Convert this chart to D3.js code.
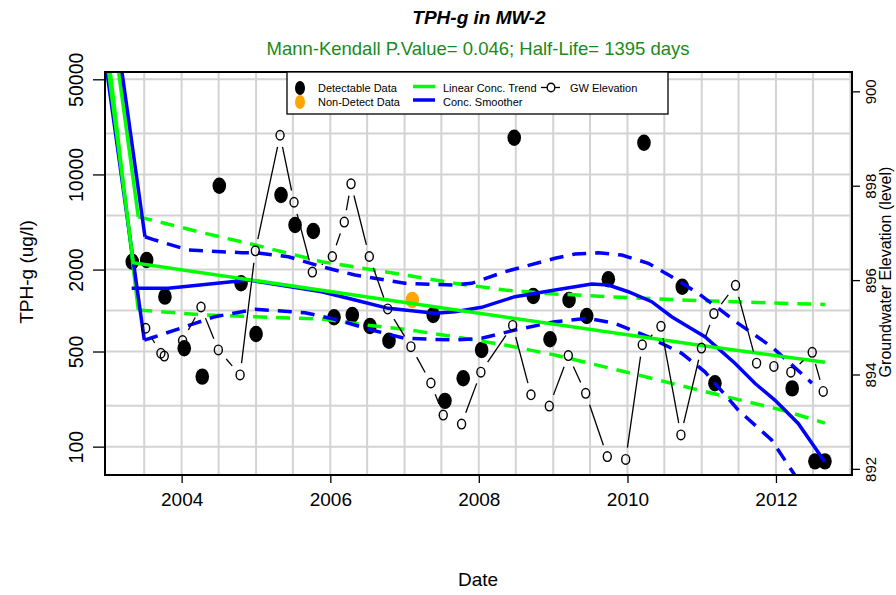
<!DOCTYPE html>
<html><head><meta charset="utf-8">
<script src="https://cdn.jsdelivr.net/npm/d3@7"></script>
<style>body{margin:0;background:#fff}svg{display:block;font-family:"Liberation Sans",Arial,sans-serif}</style>
</head><body><svg id="c" width="896" height="595"></svg>
<script>
// ---- data (decimal years) ----
const detectYear = [2003.335,2003.529,2003.775,2004.035,2004.277,2004.506,2004.798,2005.0,2005.336,2005.525,2005.771,2006.05,2006.296,2006.534,2006.79,2007.386,2007.544,2007.79,2008.038,2008.476,2008.732,2008.957,2009.213,2009.451,2009.742,2010.222,2010.738,2011.178,2012.218,2012.524,2012.658];
const detectValue = [2285,2350,1265,528,327,8265,1585,673,7063,4250,3840,892,927,770,600,927,217,318,513,18620,1280,615,1195,912,1697,17100,1497,292,268,78,78];
const ndYear = [2007.104];
const ndValue = [1195];
const gwYear = [2003.516,2003.721,2003.766,2004.013,2004.26,2004.493,2004.785,2004.99,2005.323,2005.511,2005.758,2006.027,2006.188,2006.279,2006.525,2006.773,2007.086,2007.355,2007.521,2007.768,2008.028,2008.455,2008.701,2008.947,2009.203,2009.437,2009.728,2009.976,2010.199,2010.451,2010.72,2010.996,2011.164,2011.456,2011.739,2011.972,2012.2,2012.487,2012.635];
const gwLevel = [894.98,894.45,894.39,894.72,895.43,894.52,893.99,896.62,899.07,897.65,896.17,896.50,897.23,898.04,896.50,895.39,894.59,893.82,893.14,892.95,894.05,895.04,893.57,893.33,894.40,893.60,892.26,892.20,894.63,895.02,892.72,894.56,895.29,895.89,894.24,894.17,894.05,894.47,893.64];
const trendYear = [2002.961,2003.349,2007.005,2011.043,2012.658];
const trendValue = [97200,2247,1146,549,417];
const trendUpYear = [2003.092,2003.416,2004.314,2004.987,2005.884,2007.005,2007.678,2008.351,2009.024,2009.922,2010.999,2012.568,2012.658];
const trendUpValue = [97200,4890,3693,3030,2286,1824,1585,1415,1323,1251,1181,1111,1108];
const trendLoYear = [2002.988,2003.416,2004.314,2004.987,2005.929,2006.467,2007.005,2007.678,2008.351,2009.024,2010.145,2010.953,2012.075,2012.524,2012.658];
const trendLoValue = [97200,1009,927,901,862,783,728,642,558,471,336,261,186,157,149];
const smoothYear = [2003.327,2003.82,2004.9,2005.884,2006.333,2006.781,2007.409,2007.678,2008.038,2008.486,2009.024,2009.518,2009.742,2010.011,2010.326,2010.595,2010.818,2011.043,2011.447,2011.716,2011.985,2012.299,2012.658];
const smoothValue = [1457,1457,1676,1375,1195,1038,954,980,1056,1264,1415,1567,1540,1375,1161,901,760,642,410,292,220,148,77];
const smoothUpYear = [2003.136,2003.506,2003.641,2004.089,2004.808,2004.987,2005.435,2005.884,2006.333,2007.005,2007.678,2007.903,2008.351,2009.024,2009.293,2009.607,2009.922,2010.28,2010.595,2010.953,2011.491,2011.941,2012.389,2012.483];
const smoothUpValue = [97200,3486,3296,2784,2660,2660,2486,2099,1824,1585,1540,1585,1929,2420,2602,2660,2559,2223,1773,1339,805,542,327,293];
const smoothLoYear = [2002.934,2003.497,2003.641,2004.179,2004.448,2004.987,2005.66,2006.108,2006.557,2007.005,2007.678,2008.038,2008.486,2009.024,2009.472,2009.832,2010.28,2010.73,2011.043,2011.491,2011.941,2012.21,2012.658];
const smoothLoValue = [97200,607,642,805,901,1021,964,852,719,625,607,625,719,828,877,805,642,485,355,186,112,67,29];
const concTicks = [50000,10000,2000,500,100];
const concGrid = [50000,20000,10000,5000,2000,1000,500,200,100];
const gwTicks = [900,898,896,894,892];
const yearTicks = [2004,2006,2008,2010,2012];

const titleText = "TPH-g in MW-2";
const subText = "Mann-Kendall P.Value= 0.046; Half-Life= 1395 days";

// ---- helpers ----
function dy(y){ const yr=Math.floor(y); const start=new Date(yr,0,1), end=new Date(yr+1,0,1); return new Date(+start + (y-yr)*(end-start)); }
const svg = d3.select("#c");
const L=105, R=852, T=72, B=475;
const x = d3.scaleTime().domain([dy(2002.9677), dy(2013.0215)]).range([L,R]);
const y = d3.scaleLog().domain([56570, 61.9]).range([T,B]);
const y2 = d3.scaleLinear().domain([900.41, 891.87]).range([T,B]);

// grid
const g = svg.append("g");
const gridDates = d3.range(2003.5, 2013.01, 0.5).map(v=>{const yr=Math.floor(v); return v%1? new Date(yr,6,1): new Date(yr,0,1);});
g.selectAll("line.vg").data(gridDates).join("line").attr("x1",d=>x(d)).attr("x2",d=>x(d)).attr("y1",T).attr("y2",B).attr("stroke","#d3d3d3").attr("stroke-width",2);
g.selectAll("line.hg").data(concGrid).join("line").attr("x1",L).attr("x2",R).attr("y1",d=>y(d)).attr("y2",d=>y(d)).attr("stroke","#d3d3d3").attr("stroke-width",2);

svg.append("clipPath").attr("id","clip").append("rect").attr("x",L).attr("y",T).attr("width",R-L).attr("height",B-T);
const plot = svg.append("g").attr("clip-path","url(#clip)");

// points
plot.selectAll("ellipse.det").data(detectYear.map((d,i)=>[d,detectValue[i]])).join("ellipse")
  .attr("cx",d=>x(dy(d[0]))).attr("cy",d=>y(d[1])).attr("rx",6.8).attr("ry",8.2).attr("fill","#000");
plot.selectAll("ellipse.nd").data(ndYear.map((d,i)=>[d,ndValue[i]])).join("ellipse")
  .attr("cx",d=>x(dy(d[0]))).attr("cy",d=>y(d[1])).attr("rx",6.8).attr("ry",8.2).attr("fill","#FFA500");

// lines
const line = d3.line().x(d=>x(dy(d[0]))).y(d=>y(d[1]));
function zipL(a,b){return a.map((v,i)=>[v,b[i]]);}
function drawLine(ys,vs,color,dashed){
  const pts = zipL(ys,vs);
  if(dashed){
    plot.append("path").attr("d",line(pts.slice(0,2))).attr("fill","none").attr("stroke",color).attr("stroke-width",3.5);
    plot.append("path").attr("d",line(pts.slice(1))).attr("fill","none").attr("stroke",color).attr("stroke-width",3.5).attr("stroke-dasharray","14,9");
  } else {
    plot.append("path").attr("d",line(pts)).attr("fill","none").attr("stroke",color).attr("stroke-width",3.5);
  }
}
drawLine(trendUpYear,trendUpValue,"#00ff00",true);
drawLine(trendLoYear,trendLoValue,"#00ff00",true);
drawLine(smoothUpYear,smoothUpValue,"#0000ff",true);
drawLine(smoothLoYear,smoothLoValue,"#0000ff",true);
drawLine(smoothYear,smoothValue,"#0000ff",false);
drawLine(trendYear,trendValue,"#00ff00",false);

// GW elevation (type b)
const gwPts = gwYear.map((d,i)=>[x(dy(d)), y2(gwLevel[i])]);
const gap=12;
for(let i=0;i<gwPts.length-1;i++){
  const [x1,y1]=gwPts[i],[x2,yy2]=gwPts[i+1];
  const dx=x2-x1, dd=yy2-y1, len=Math.hypot(dx,dd);
  if(len>2*gap){
    const ux=dx/len, uy=dd/len;
    plot.append("line").attr("x1",x1+ux*gap).attr("y1",y1+uy*gap).attr("x2",x2-ux*gap).attr("y2",yy2-uy*gap).attr("stroke","#000").attr("stroke-width",1.3);
  }
}
plot.selectAll("ellipse.gw").data(gwPts).join("ellipse").attr("cx",d=>d[0]).attr("cy",d=>d[1]).attr("rx",4).attr("ry",4.8).attr("fill","none").attr("stroke","#000").attr("stroke-width",1.4);

// box
svg.append("rect").attr("x",L).attr("y",T).attr("width",R-L).attr("height",B-T).attr("fill","none").attr("stroke","#000").attr("stroke-width",2);

// axes
const yAx = svg.append("g").attr("transform",`translate(${L},0)`).call(d3.axisLeft(y).tickValues(concTicks).tickFormat(d3.format("d")).tickSize(12).tickPadding(4));
yAx.select(".domain").remove();
yAx.selectAll("line").attr("stroke-width",1.3);
yAx.selectAll("text").attr("font-size",19.5).attr("fill","#000")
  .attr("text-anchor","middle").attr("x",null).attr("dy",null)
  .attr("transform","translate(-29,0) rotate(-90)").attr("dominant-baseline","central");
const y2Ax = svg.append("g").attr("transform",`translate(${R},0)`).call(d3.axisRight(y2).tickValues(gwTicks).tickFormat(d3.format("d")).tickSize(8));
y2Ax.select(".domain").remove();
y2Ax.selectAll("line").attr("stroke-width",1.3);
y2Ax.selectAll("text").attr("font-size",15).attr("fill","#000").attr("text-anchor","middle").attr("x",null).attr("dy",null)
  .attr("transform","translate(18,0) rotate(-90)").attr("dominant-baseline","central");
const xAx = svg.append("g").attr("transform",`translate(0,${B})`).call(d3.axisBottom(x).tickValues(yearTicks.map(v=>new Date(v,0,1))).tickFormat(d3.timeFormat("%Y")).tickSize(8).tickPadding(10));
xAx.select(".domain").remove();
xAx.selectAll("line").attr("stroke-width",1.3);
xAx.selectAll("text").attr("font-size",19).attr("fill","#000");

// titles
svg.append("text").attr("x",479).attr("y",24).attr("text-anchor","middle").attr("font-size",19).attr("font-weight","bold").attr("font-style","italic").text(titleText);
svg.append("text").attr("x",478).attr("y",55).attr("text-anchor","middle").attr("font-size",18.5).attr("fill","#1a8a1a").text(subText);
svg.append("text").attr("x",478).attr("y",586).attr("text-anchor","middle").attr("font-size",19).text("Date");
svg.append("text").attr("transform","translate(33,272) rotate(-90)").attr("text-anchor","middle").attr("font-size",19).text("TPH-g (ug/l)");
svg.append("text").attr("transform","translate(891,272) rotate(-90)").attr("text-anchor","middle").attr("font-size",16).text("Groundwater Elevation (level)");

// legend
const lg = svg.append("g");
lg.append("rect").attr("x",287).attr("y",T).attr("width",381).attr("height",42).attr("fill","#fff").attr("stroke","#000").attr("stroke-width",1.3);
const lfs=11;
lg.append("ellipse").attr("cx",300).attr("cy",88).attr("rx",5).attr("ry",7).attr("fill","#000");
lg.append("ellipse").attr("cx",300).attr("cy",102).attr("rx",5).attr("ry",7).attr("fill","#FFA500");
lg.append("text").attr("x",318).attr("y",92).attr("font-size",lfs).text("Detectable Data");
lg.append("text").attr("x",318).attr("y",106).attr("font-size",lfs).text("Non-Detect Data");
lg.append("line").attr("x1",413).attr("x2",435).attr("y1",86.5).attr("y2",86.5).attr("stroke","#00ff00").attr("stroke-width",3.5);
lg.append("line").attr("x1",413).attr("x2",435).attr("y1",100).attr("y2",100).attr("stroke","#0000ff").attr("stroke-width",3.5);
lg.append("text").attr("x",443).attr("y",92).attr("font-size",lfs).text("Linear Conc. Trend");
lg.append("text").attr("x",443).attr("y",106).attr("font-size",lfs).text("Conc. Smoother");
lg.append("line").attr("x1",541).attr("x2",560).attr("y1",87.5).attr("y2",87.5).attr("stroke","#000").attr("stroke-width",1.3);
lg.append("ellipse").attr("cx",551).attr("cy",87.5).attr("rx",3.8).attr("ry",4.3).attr("fill","#fff").attr("stroke","#000").attr("stroke-width",1.4);
lg.append("text").attr("x",570).attr("y",92).attr("font-size",lfs).text("GW Elevation");
</script></body></html>
